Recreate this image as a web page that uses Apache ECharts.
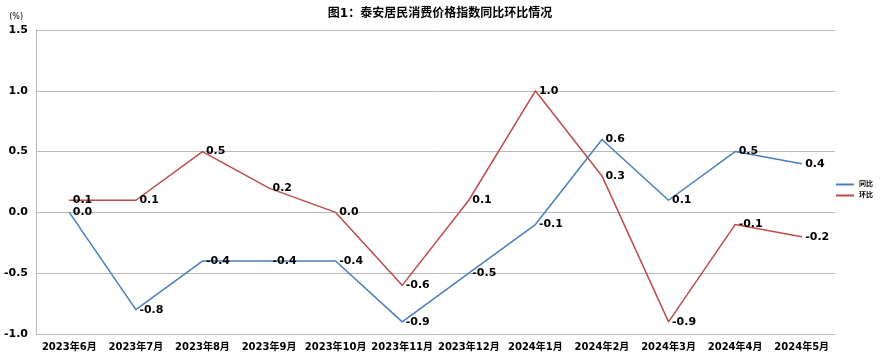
<!DOCTYPE html>
<html><head><meta charset="utf-8">
<script src="https://cdn.jsdelivr.net/npm/echarts@6/dist/echarts.min.js"></script>
<style>html,body{margin:0;padding:0;background:#fff}#c{width:880px;height:358px}</style>
</head><body><div id="c"></div>
<script>
const categories = ['2023年6月','2023年7月','2023年8月','2023年9月','2023年10月','2023年11月','2023年12月','2024年1月','2024年2月','2024年3月','2024年4月','2024年5月'];
const yoy = [0.0, -0.8, -0.4, -0.4, -0.4, -0.9, -0.5, -0.1, 0.6, 0.1, 0.5, 0.4];
const mom = [0.1, 0.1, 0.5, 0.2, 0.0, -0.6, 0.1, 1.0, 0.3, -0.9, -0.1, -0.2];
const seriesNames = ['同比','环比'];
const yTicks = {min:-1.0, max:1.5, interval:0.5};
const FONT = '"DejaVu Sans","Noto Sans CJK SC",sans-serif';
const chart = echarts.init(document.getElementById('c'));
const lbl = {show:true, position:'right', distance:3, color:'#000', fontWeight:'bold', fontSize:11, fontFamily:FONT, formatter:p=>p.value.toFixed(1)};
chart.setOption({
  animation:false,
  title:{text:'图1：泰安居民消费价格指数同比环比情况', left:'center', top:3, textStyle:{fontSize:12, fontWeight:'bold', color:'#000', fontFamily:FONT}},
  legend:{orient:'vertical', right:2, top:176, itemWidth:18, itemHeight:2, itemGap:4, icon:'rect', textStyle:{fontSize:7, fontWeight:'bold', color:'#000', fontFamily:FONT}, data:seriesNames},
  grid:{left:36, right:45, top:30, bottom:24},
  xAxis:{type:'category', data:categories, boundaryGap:true,
    axisLine:{show:false}, axisTick:{show:false},
    axisLabel:{color:'#000', fontWeight:'bold', fontSize:10, fontFamily:FONT, interval:0, margin:8}},
  yAxis:{type:'value', min:yTicks.min, max:yTicks.max, interval:yTicks.interval,
    name:'(%)', nameLocation:'end', nameGap:9, nameTextStyle:{fontSize:8, color:'#000', fontFamily:FONT, align:'right', padding:[0,13,0,0]},
    axisLine:{show:true, lineStyle:{color:'#b8b8b8'}}, axisTick:{show:false},
    splitLine:{lineStyle:{color:'#b8b8b8'}},
    axisLabel:{color:'#000', fontWeight:'bold', fontSize:11, fontFamily:FONT, formatter:v=>v.toFixed(1), margin:8}},
  series:[
    {name:seriesNames[0], type:'line', data:yoy, symbol:'circle', symbolSize:1, showSymbol:true, lineStyle:{color:'#4a7ebb', width:1.5}, itemStyle:{color:'#4a7ebb'}, label:lbl, z:3},
    {name:seriesNames[1], type:'line', data:mom, symbol:'circle', symbolSize:1, showSymbol:true, lineStyle:{color:'#be4b48', width:1.5}, itemStyle:{color:'#be4b48'}, label:lbl, z:2}
  ]
});
</script></body></html>
